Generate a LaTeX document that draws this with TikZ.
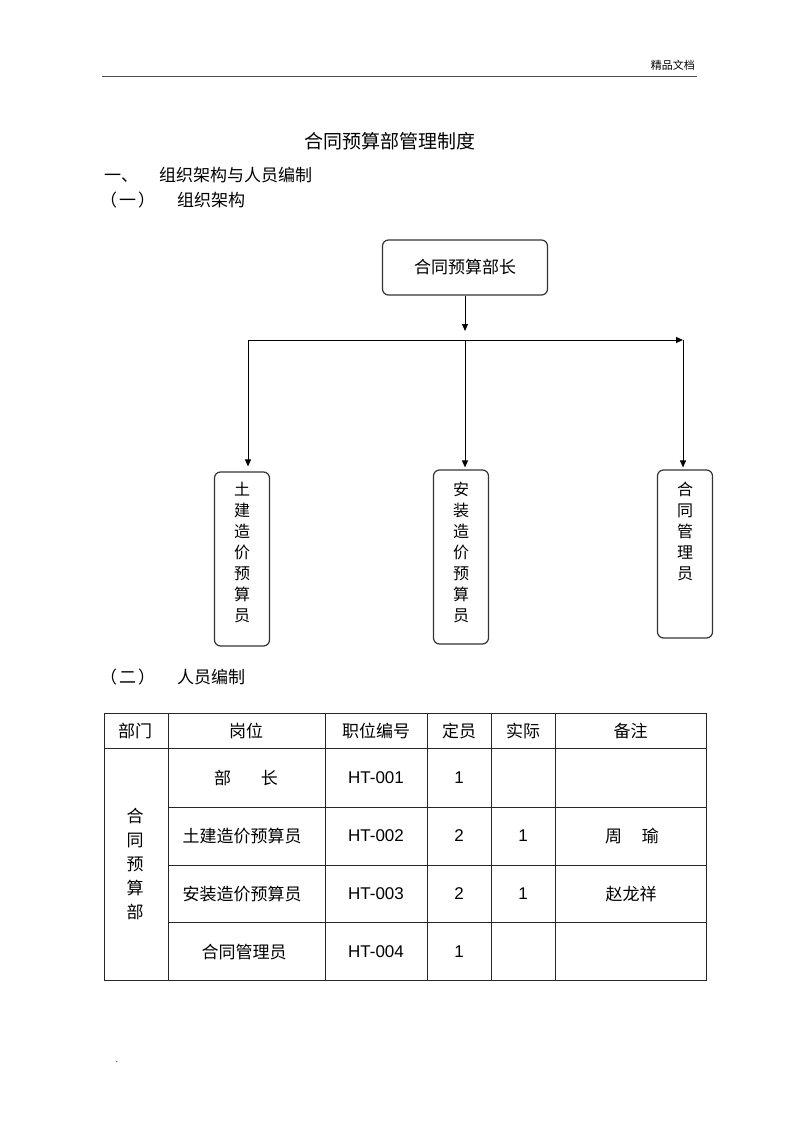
\documentclass[tikz,border=0pt]{standalone}
\usepackage{fontspec}
\setmainfont{Noto Sans CJK SC}
\newfontfamily\latinfont{Liberation Sans}
\usetikzlibrary{arrows.meta,positioning,calc}

\begin{document}
\begin{tikzpicture}[x=1pt,y=-1pt,
  txt/.style={inner sep=0pt, font=\fontsize{17}{21}\selectfont},
  num/.style={inner sep=0pt, font=\latinfont\fontsize{17}{21}\selectfont},
  boss/.style={draw=black!80, line width=1.2pt, rounded corners=6pt, minimum width=165pt, minimum height=55pt, font=\fontsize{17}{21}\selectfont},
  staff/.style={draw=black!80, line width=1.2pt, rounded corners=6pt, minimum width=55pt},
  vtxt/.style={inner sep=0pt, align=center, font=\fontsize{16}{21}\selectfont},
  arr/.style={-{Triangle[length=7pt,width=6pt]}, line width=1pt},
  tbl/.style={black!85, line width=0.9pt}]

  \path[use as bounding box] (0,0) rectangle (800,1133);

  % page head
  \node (hd) [txt, font=\fontsize{11}{13}\selectfont, anchor=east] at (695,65) {精品文档};
  \coordinate (rl) at (102,76);
  \coordinate (rr) at (697,76);
  \draw [black!70, line width=0.8pt] (rl) -- (rr);

  \node (title) [txt, font=\fontsize{19}{23}\selectfont] at (390,141) {合同预算部管理制度};
  \node (sec1) [txt, anchor=west] at (104,175) {一、\hspace{21pt}组织架构与人员编制};
  \node (sec11) [txt, anchor=west] at (100,200) {（\hspace{2pt}一\hspace{2pt}）\hspace{22pt}组织架构};

  % org chart
  \node (head) [boss] at (465,267.5) {合同预算部长};
  \node (civil) [staff, minimum height=174pt] at (242,559) {};
  \node (inst) [staff, minimum height=174pt] at (461,557) {};
  \node (cont) [staff, minimum height=168pt] at (685,554) {};

  \node (civilt) [vtxt, anchor=north] at ($(civil.north)+(0,10)$) {土\\建\\造\\价\\预\\算\\员};
  \node (instt) [vtxt, anchor=north] at ($(inst.north)+(0,12)$) {安\\装\\造\\价\\预\\算\\员};
  \node (contt) [vtxt, anchor=north] at ($(cont.north)+(0,12)$) {合\\同\\管\\理\\员};

  \coordinate (drop) at (465,331);
  \coordinate (jl) at (248,340);
  \coordinate (jm) at (465,340);
  \coordinate (jr) at (683,340);

  \draw [arr] (head) -- (drop);
  \draw [arr] (jl) -- (jr);
  \draw [arr, shorten >=5pt] (jl) -- (jl |- civil.north);
  \draw [arr, shorten >=2pt] (jm) -- (jm |- inst.north);
  \draw [arr, shorten >=2pt] (jr) -- (jr |- cont.north);

  % staffing table
  \node (sec12) [txt, anchor=west] at (100,677) {（\hspace{2pt}二\hspace{2pt}）\hspace{22pt}人员编制};

  \draw [tbl] (104,713) rectangle (706,980);
  \draw [tbl] (104,748) -- (706,748);
  \foreach \y in {807,865,922}
    \draw [tbl] (168,\y) -- (706,\y);
  \foreach \x in {168,325,427,491,555}
    \draw [tbl] (\x,713) -- (\x,980);

  \foreach \x/\t [count=\i] in {135/部门, 246/岗位, 376/职位编号, 459/定员, 523/实际, 630.5/备注}
    \node (h\i) [txt] at (\x,731) {\t};

  \node (dept) [vtxt, font=\fontsize{17}{24}\selectfont] at (135,864) {合\\同\\预\\算\\部};

  \node (p1) [txt] at (246,778) {部\hspace{30pt}长};
  \node (c1) [num] at (376,778) {HT-001};
  \node (q1) [num] at (459,778) {1};

  \node (p2) [txt] at (242,836) {土建造价预算员};
  \node (c2) [num] at (376,836) {HT-002};
  \node (q2) [num] at (459,836) {2};
  \node (a2) [num] at (523,836) {1};
  \node (n2) [txt] at (632,836) {周\hspace{20pt}瑜};

  \node (p3) [txt] at (242,894) {安装造价预算员};
  \node (c3) [num] at (376,894) {HT-003};
  \node (q3) [num] at (459,894) {2};
  \node (a3) [num] at (523,894) {1};
  \node (n3) [txt] at (631,894) {赵龙祥};

  \node (p4) [txt] at (244,952) {合同管理员};
  \node (c4) [num] at (376,952) {HT-004};
  \node (q4) [num] at (459,952) {1};

  \node (dot) [txt, font=\fontsize{8}{9}\selectfont] at (117,1062) {.};

\end{tikzpicture}
\end{document}
